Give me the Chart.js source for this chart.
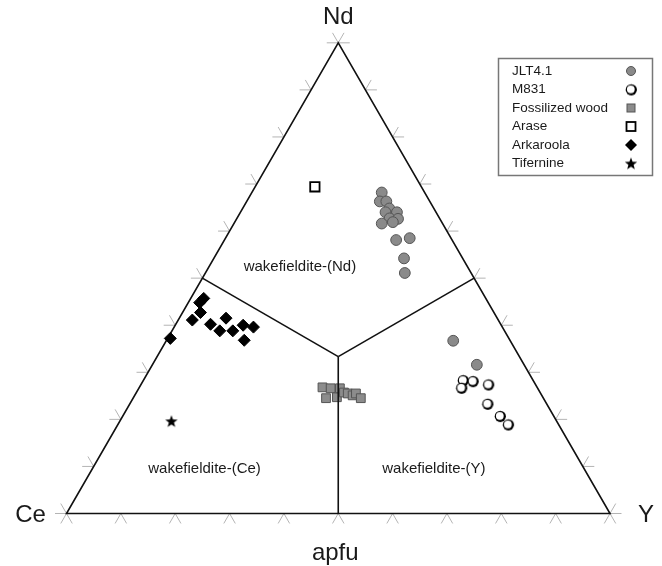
<!DOCTYPE html>
<html>
<head>
<meta charset="utf-8">
<script src="https://cdn.jsdelivr.net/npm/chart.js@4.4.1/dist/chart.umd.min.js"></script>
<style>
html, body { margin: 0; padding: 0; background: #fff; }
#wrap { width: 662px; height: 566px; }
</style>
</head>
<body>
<div id="wrap"><canvas id="chart"></canvas></div>
<script>
// compositions as fractions [Ce, Nd, Y]
const jlt41 = [
    [0.079, 0.682, 0.239], [0.092, 0.663, 0.245], [0.080, 0.663, 0.257],
    [0.082, 0.648, 0.270], [0.072, 0.640, 0.288], [0.093, 0.640, 0.267],
    [0.092, 0.627, 0.281], [0.077, 0.626, 0.297], [0.112, 0.616, 0.272],
    [0.090, 0.619, 0.291], [0.103, 0.581, 0.316], [0.076, 0.585, 0.339],
    [0.108, 0.542, 0.350], [0.122, 0.511, 0.367], [0.105, 0.367, 0.528],
    [0.087, 0.316, 0.597]
];
const m831 = [
    [0.129, 0.283, 0.588], [0.140, 0.267, 0.593], [0.112, 0.281, 0.607],
    [0.087, 0.274, 0.639], [0.109, 0.233, 0.658], [0.099, 0.207, 0.694],
    [0.093, 0.189, 0.718]
];
const fossilizedWood = [
    [0.395, 0.268, 0.337], [0.400, 0.245, 0.355], [0.381, 0.266, 0.353],
    [0.379, 0.247, 0.374], [0.364, 0.266, 0.370], [0.361, 0.257, 0.382],
    [0.355, 0.255, 0.390], [0.348, 0.251, 0.401], [0.340, 0.255, 0.405],
    [0.336, 0.245, 0.419]
];
const arase = [[0.196, 0.694, 0.110]];
const arkaroola = [
    [0.531, 0.448, 0.021], [0.519, 0.457, 0.024], [0.540, 0.427, 0.033],
    [0.563, 0.411, 0.026], [0.534, 0.402, 0.064], [0.499, 0.415, 0.086],
    [0.524, 0.388, 0.088], [0.500, 0.388, 0.112], [0.475, 0.400, 0.125],
    [0.458, 0.396, 0.146], [0.489, 0.368, 0.143], [0.623, 0.372, 0.005]
];
const tifernine = [[0.709, 0.196, 0.095]];

const seriesNames = ['JLT4.1', 'M831', 'Fossilized wood', 'Arase', 'Arkaroola', 'Tifernine'];
const apexLabels = ['Ce', 'Nd', 'Y'];
const axisTitle = 'apfu';
const fieldNames = ['wakefieldite-(Nd)', 'wakefieldite-(Ce)', 'wakefieldite-(Y)'];

const FONT = '"Liberation Sans", Arial, sans-serif';
const SQ3 = Math.sqrt(3) / 2;

function toXY([ce, nd, y]) {
    const s = ce + nd + y;
    return { x: (y + nd / 2) / s, y: (nd / s) * SQ3 };
}

function makeStar() {
    const c = document.createElement('canvas');
    c.width = 14; c.height = 14;
    const g = c.getContext('2d');
    g.fillStyle = '#000';
    g.beginPath();
    for (let i = 0; i < 10; i++) {
        const r = i % 2 === 0 ? 6.5 : 2.7;
        const a = -Math.PI / 2 + i * Math.PI / 5;
        g.lineTo(7 + r * Math.cos(a), 7.5 + r * Math.sin(a));
    }
    g.closePath();
    g.fill();
    return c;
}

function makeShadedCircle() {
    const c = document.createElement('canvas');
    c.width = 14; c.height = 14;
    const g = c.getContext('2d');
    g.fillStyle = '#000';
    g.beginPath();
    g.arc(7.3, 7.3, 5.6, 0, Math.PI * 2);
    g.fill();
    g.fillStyle = '#fff';
    g.beginPath();
    g.arc(6.8, 6.8, 3.9, 0, Math.PI * 2);
    g.fill();
    return c;
}

const starImg = makeStar();
const shadedImg = makeShadedCircle();

const styles = [
    { pointStyle: 'circle', radius: 5.4, backgroundColor: '#8a8a8a', borderColor: '#555', borderWidth: 1 },
    { pointStyle: shadedImg, radius: 6, backgroundColor: '#fff', borderColor: '#000', borderWidth: 0 },
    { pointStyle: 'rect', radius: 6.2, backgroundColor: '#8c8c8c', borderColor: '#555', borderWidth: 1 },
    { pointStyle: 'rect', radius: 6.6, backgroundColor: '#fff', borderColor: '#000', borderWidth: 1.8 },
    { pointStyle: 'rectRot', radius: 6, backgroundColor: '#000', borderColor: '#000', borderWidth: 1 },
    { pointStyle: starImg, radius: 6, backgroundColor: '#000', borderColor: '#000', borderWidth: 0 }
];

const seriesData = [jlt41, m831, fossilizedWood, arase, arkaroola, tifernine];

const datasets = seriesData.map((rows, i) => ({
    label: seriesNames[i],
    data: rows.map(toXY),
    pointStyle: styles[i].pointStyle,
    pointRadius: styles[i].radius,
    pointHoverRadius: styles[i].radius,
    pointBackgroundColor: styles[i].backgroundColor,
    pointBorderColor: styles[i].borderColor,
    pointBorderWidth: styles[i].borderWidth
}));

function pix(chart, comp) {
    const p = toXY(comp);
    return [chart.scales.x.getPixelForValue(p.x), chart.scales.y.getPixelForValue(p.y)];
}

function line(ctx, a, b) {
    ctx.beginPath();
    ctx.moveTo(a[0], a[1]);
    ctx.lineTo(b[0], b[1]);
    ctx.stroke();
}

const ternaryPlugin = {
    id: 'ternary',
    beforeDatasetsDraw(chart) {
        const ctx = chart.ctx;
        const ce = pix(chart, [1, 0, 0]);
        const nd = pix(chart, [0, 1, 0]);
        const y = pix(chart, [0, 0, 1]);
        ctx.save();
        // tick marks, outside the triangle
        const L = 11.5;
        const edges = [
            [ce, y, [[-0.5, SQ3], [0.5, SQ3]]],
            [ce, nd, [[-1, 0], [-0.5, -SQ3]]],
            [y, nd, [[1, 0], [0.5, -SQ3]]]
        ];
        ctx.strokeStyle = '#b4b4b4';
        ctx.lineWidth = 1;
        edges.forEach(([a, b, dirs]) => {
            for (let i = 0; i <= 10; i++) {
                const t = i / 10;
                const p = [a[0] + (b[0] - a[0]) * t, a[1] + (b[1] - a[1]) * t];
                dirs.forEach(d => line(ctx, p, [p[0] + d[0] * L, p[1] + d[1] * L]));
            }
        });
        // triangle
        ctx.strokeStyle = '#111';
        ctx.lineWidth = 1.6;
        ctx.lineJoin = 'miter';
        ctx.beginPath();
        ctx.moveTo(ce[0], ce[1]);
        ctx.lineTo(y[0], y[1]);
        ctx.lineTo(nd[0], nd[1]);
        ctx.closePath();
        ctx.stroke();
        ctx.restore();
    },
    afterDatasetsDraw(chart) {
        const ctx = chart.ctx;
        const ce = pix(chart, [1, 0, 0]);
        const nd = pix(chart, [0, 1, 0]);
        const y = pix(chart, [0, 0, 1]);
        const mid = pix(chart, [1, 1, 1]);
        ctx.save();
        // field boundaries
        ctx.strokeStyle = '#111';
        ctx.lineWidth = 1.6;
        line(ctx, mid, pix(chart, [1, 1, 0]));
        line(ctx, mid, pix(chart, [0, 1, 1]));
        line(ctx, mid, pix(chart, [1, 0, 1]));

        ctx.fillStyle = '#1a1a1a';
        ctx.textAlign = 'center';
        ctx.textBaseline = 'middle';
        ctx.font = '15px ' + FONT;
        const fieldPos = [[0.309, 0.523, 0.168], [0.699, 0.094, 0.207], [0.277, 0.094, 0.629]];
        fieldNames.forEach((n, i) => {
            const p = pix(chart, fieldPos[i]);
            ctx.fillText(n, p[0], p[1]);
        });

        ctx.font = '24px ' + FONT;
        ctx.fillText(apexLabels[0], ce[0] - 36, ce[1] + 2);
        ctx.fillText(apexLabels[1], nd[0], nd[1] - 25);
        ctx.fillText(apexLabels[2], y[0] + 36, y[1] + 2);
        ctx.fillText(axisTitle, (ce[0] + y[0]) / 2 - 3, ce[1] + 40);

        // legend
        const bx = 498, by = 58, bw = 154, bh = 117;
        ctx.fillStyle = '#fff';
        ctx.fillRect(bx, by, bw, bh);
        ctx.strokeStyle = '#777';
        ctx.lineWidth = 1.5;
        ctx.strokeRect(bx + 0.5, by + 0.5, bw, bh);
        ctx.font = '13.5px ' + FONT;
        ctx.textAlign = 'left';
        seriesNames.forEach((n, i) => {
            const ty = by + 13 + i * 18.5;
            ctx.fillStyle = '#1a1a1a';
            ctx.fillText(n, 512, ty);
            drawMarker(ctx, i, 631, ty);
        });
        ctx.restore();
    }
};

function drawMarker(ctx, i, x, y) {
    const s = styles[i];
    ctx.save();
    ctx.fillStyle = s.backgroundColor;
    ctx.strokeStyle = s.borderColor;
    ctx.lineWidth = s.borderWidth;
    if (s.pointStyle instanceof HTMLCanvasElement) {
        ctx.drawImage(s.pointStyle, x - 7, y - 7);
    } else if (s.pointStyle === 'circle') {
        ctx.beginPath();
        ctx.arc(x, y, 4.5, 0, Math.PI * 2);
        ctx.fill();
        ctx.stroke();
    } else if (s.pointStyle === 'rect') {
        const h = i === 3 ? 4.5 : 4;
        ctx.fillRect(x - h, y - h, 2 * h, 2 * h);
        ctx.strokeRect(x - h, y - h, 2 * h, 2 * h);
    } else {
        ctx.beginPath();
        ctx.moveTo(x, y - 6);
        ctx.lineTo(x + 6, y);
        ctx.lineTo(x, y + 6);
        ctx.lineTo(x - 6, y);
        ctx.closePath();
        ctx.fill();
    }
    ctx.restore();
}

new Chart(document.getElementById('chart'), {
    type: 'scatter',
    data: { datasets: datasets },
    options: {
        responsive: true,
        maintainAspectRatio: false,
        animation: false,
        layout: { padding: 0, autoPadding: false },
        scales: {
            x: { type: 'linear', min: -0.12236, max: 1.09568, display: false },
            y: { type: 'linear', min: -0.09660, max: 0.94480, display: false }
        },
        plugins: {
            legend: { display: false },
            tooltip: { enabled: false }
        }
    },
    plugins: [ternaryPlugin]
});
</script>
</body>
</html>
